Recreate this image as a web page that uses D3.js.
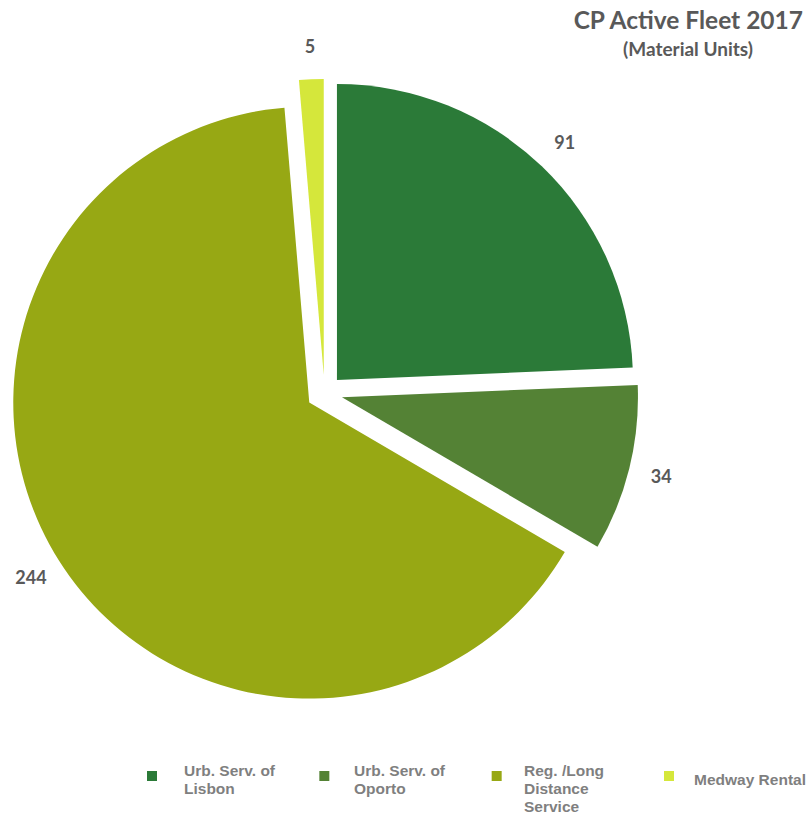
<!DOCTYPE html>
<html>
<head>
<meta charset="utf-8">
<script src="https://cdn.jsdelivr.net/npm/d3@7"></script>
<style>
  body { margin: 0; background: #fff; }
  svg { display: block; }
</style>
</head>
<body>
<script>
var svgWidth = 807;
var svgHeight = 816;

// data
var categories = ["Urb. Serv. of Lisbon", "Urb. Serv. of Oporto", "Reg. /Long Distance Service", "Medway Rental"];
var values = [91, 34, 244, 5];
var legendLines = [["Urb. Serv. of", "Lisbon"], ["Urb. Serv. of", "Oporto"], ["Reg. /Long", "Distance", "Service"], ["Medway Rental"]];
var colors = ["#2b7a38", "#548235", "#97a814", "#d5e73b"];

var center = {x: 324.5, y: 393};
var radius = 296;
var explode = 18;
var labelRadius = 329;

var svg = d3.select("body").append("svg")
  .attr("width", svgWidth)
  .attr("height", svgHeight);

// title
svg.append("text")
  .attr("x", 803).attr("y", 29)
  .attr("text-anchor", "end")
  .style("font-family", "Lato, 'Open Sans', sans-serif")
  .style("font-weight", "bold")
  .style("font-size", "24.5px")
  .style("fill", "#595959")
  .text("CP Active Fleet 2017");

svg.append("text")
  .attr("x", 688).attr("y", 56)
  .attr("text-anchor", "middle")
  .style("font-family", "Lato, 'Open Sans', sans-serif")
  .style("font-weight", "bold")
  .style("font-size", "19px")
  .style("fill", "#595959")
  .text("(Material Units)");

// pie
var pie = d3.pie().sort(null).value(function(d) { return d; });
var arcs = pie(values);

var arc = d3.arc().innerRadius(0).outerRadius(radius);
var labelArc = d3.arc().innerRadius(labelRadius).outerRadius(labelRadius);

function offset(d) {
  var mid = (d.startAngle + d.endAngle) / 2;
  return [center.x + explode * Math.sin(mid), center.y - explode * Math.cos(mid)];
}

var slices = svg.append("g").attr("id", "pieG")
  .selectAll("g.slice")
  .data(arcs)
  .enter()
  .append("g")
  .attr("class", "slice")
  .attr("transform", function(d) {
    var o = offset(d);
    return "translate(" + o[0] + "," + o[1] + ")";
  });

slices.append("path")
  .attr("d", arc)
  .attr("fill", function(d, i) { return colors[i]; });

slices.append("text")
  .attr("transform", function(d) { return "translate(" + labelArc.centroid(d) + ")"; })
  .attr("text-anchor", "middle")
  .attr("dy", "0.35em")
  .style("font-family", "Lato, 'Open Sans', sans-serif")
  .style("font-weight", "bold")
  .style("font-size", "18px")
  .style("fill", "#595959")
  .text(function(d) { return d.data; });

// legend
var legendX = d3.scalePoint().domain(categories).range([147, 664]);
var legendTextX = d3.scalePoint().domain(categories).range([184, 694]);

var legend = svg.append("g").attr("id", "legendG")
  .selectAll("g.item")
  .data(categories)
  .enter()
  .append("g")
  .attr("class", "item");

legend.append("rect")
  .attr("x", function(d) { return legendX(d); }).attr("y", 771)
  .attr("width", 10).attr("height", 10)
  .attr("fill", function(d, i) { return colors[i]; });

legend.append("text")
  .attr("y", function(d, i) { return legendLines[i].length == 1 ? 785 : 776; })
  .style("font-family", "'Liberation Sans', Arial, sans-serif")
  .style("font-weight", "bold")
  .style("font-size", "15.5px")
  .style("fill", "#7f7f7f")
  .each(function(d, i) {
    var x = legendTextX(d);
    d3.select(this).selectAll("tspan")
      .data(legendLines[i])
      .enter()
      .append("tspan")
      .attr("x", x)
      .attr("dy", function(t, j) { return j == 0 ? 0 : 18; })
      .text(function(t) { return t; });
  });
</script>
</body>
</html>
